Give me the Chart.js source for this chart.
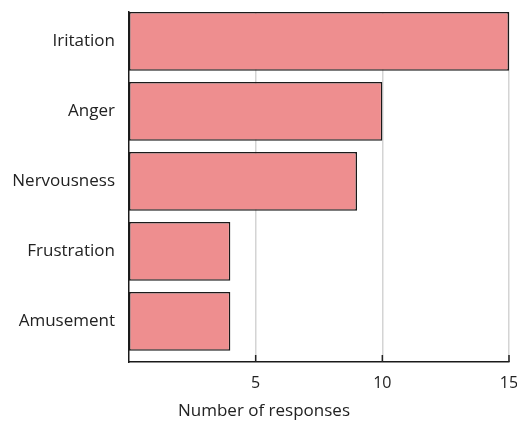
<!DOCTYPE html>
<html>
<head>
<meta charset="utf-8">
<script src="https://cdn.jsdelivr.net/npm/chart.js@4/dist/chart.umd.min.js"></script>
<style>
  html, body { margin: 0; padding: 0; background: #fff; }
  canvas { display: block; }
</style>
</head>
<body>
<canvas id="myChart" width="517" height="421"></canvas>
<script>
// data
const categories = ['Iritation', 'Anger', 'Nervousness', 'Frustration', 'Amusement']
const responses = [15, 10, 9, 4, 4]
const xTicks = [5, 10, 15]

const fontFamily = "'Open Sans', 'DejaVu Sans', sans-serif"

// little inward tick marks on the x axis, like the original
const innerTicks = {
    id: 'innerTicks',
    afterDatasetsDraw(chart) {
        const ctx = chart.ctx
        const x = chart.scales.x
        const bottom = chart.chartArea.bottom
        ctx.save()
        ctx.strokeStyle = '#222'
        ctx.lineWidth = 1.5
        xTicks.forEach(t => {
            const px = x.getPixelForValue(t)
            ctx.beginPath()
            ctx.moveTo(px, bottom)
            ctx.lineTo(px, bottom - 7)
            ctx.stroke()
        })
        ctx.restore()
    }
}

const ctx = document.getElementById('myChart').getContext('2d')
const myChart = new Chart(ctx, {
    type: 'bar',
    data: {
        datasets: [{
            label: 'Number of responses',
            data: responses.map((v, i) => ({ x: v, y: i })),
            backgroundColor: '#ee8e8f',
            borderColor: '#1a1a1a',
            borderWidth: 1.5,
            borderSkipped: false,
            categoryPercentage: 1,
            barPercentage: 0.84
        }]
    },
    options: {
        indexAxis: 'y',
        responsive: false,
        animation: false,
        layout: { padding: { top: 12, right: 8, bottom: 0, left: 19 } },
        plugins: {
            legend: { display: false },
            tooltip: { enabled: false },
            // axis title sits under the whole figure, not centred on the plot
            title: {
                display: true,
                position: 'bottom',
                text: 'Number of responses',
                color: '#222',
                padding: 0,
                font: { family: fontFamily, size: 17, weight: 'normal', lineHeight: 1.2 }
            }
        },
        scales: {
            x: {
                type: 'linear',
                min: 0,
                max: 15,
                afterBuildTicks: s => { s.ticks = xTicks.map(v => ({ value: v })) },
                afterFit: s => {
                    s.height = 38.6
                    s.paddingLeft = 0
                    s.paddingRight = 0
                },
                grid: {
                    color: '#d4d4d4',
                    lineWidth: 1.5,
                    drawTicks: false
                },
                border: { display: true, color: '#1a1a1a', width: 1.5 },
                ticks: {
                    padding: 12,
                    color: '#222',
                    font: { family: fontFamily, size: 16 },
                    maxRotation: 0
                }
            },
            y: {
                type: 'linear',
                reverse: true,
                offset: false,
                min: -0.421,
                max: 4.579,
                afterBuildTicks: s => { s.ticks = categories.map((c, i) => ({ value: i })) },
                afterFit: s => {
                    s.width = 110
                    s.paddingTop = 0
                    s.paddingBottom = 0
                    // long labels run into the left padding, so don't clip them
                    s._computeLabelArea = () => undefined
                },
                grid: { display: false, drawTicks: false, offset: false },
                border: { display: true, color: '#1a1a1a', width: 1.5 },
                ticks: {
                    padding: 14,
                    color: '#222',
                    font: { family: fontFamily, size: 17 },
                    callback: v => categories[v]
                }
            }
        }
    },
    plugins: [innerTicks]
})
</script>
</body>
</html>
